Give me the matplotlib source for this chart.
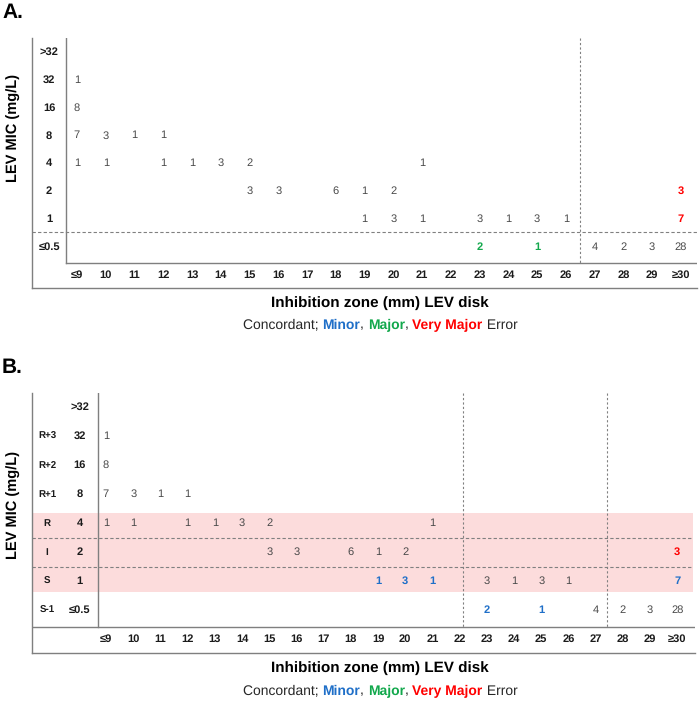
import matplotlib
matplotlib.use("Agg")
import matplotlib.pyplot as plt

plt.rcParams['font.family'] = ['Liberation Sans', 'DejaVu Sans']
plt.rcParams['text.hinting'] = 'no_hinting'

# rows: LEV MIC (mg/L), columns: inhibition zone (mm)
mic_labels = [">32", "32", "16", "8", "4", "2", "1", "≤0.5"]
zone_labels = ["≤9", "10", "11", "12", "13", "14", "15", "16", "17", "18", "19",
               "20", "21", "22", "23", "24", "25", "26", "27", "28", "29", "≥30"]
category_labels = ["", "R+3", "R+2", "R+1", "R", "I", "S", "S-1"]

#          ≤9 10 11 12 13 14 15 16 17 18 19 20 21 22 23 24 25 26 27 28 29 ≥30
counts = [[0, 0, 0, 0, 0, 0, 0, 0, 0, 0, 0, 0, 0, 0, 0, 0, 0, 0, 0, 0, 0, 0],
          [1, 0, 0, 0, 0, 0, 0, 0, 0, 0, 0, 0, 0, 0, 0, 0, 0, 0, 0, 0, 0, 0],
          [8, 0, 0, 0, 0, 0, 0, 0, 0, 0, 0, 0, 0, 0, 0, 0, 0, 0, 0, 0, 0, 0],
          [7, 3, 1, 1, 0, 0, 0, 0, 0, 0, 0, 0, 0, 0, 0, 0, 0, 0, 0, 0, 0, 0],
          [1, 1, 0, 1, 1, 3, 2, 0, 0, 0, 0, 0, 1, 0, 0, 0, 0, 0, 0, 0, 0, 0],
          [0, 0, 0, 0, 0, 0, 3, 3, 0, 6, 1, 2, 0, 0, 0, 0, 0, 0, 0, 0, 0, 3],
          [0, 0, 0, 0, 0, 0, 0, 0, 0, 0, 1, 3, 1, 0, 3, 1, 3, 1, 0, 0, 0, 7],
          [0, 0, 0, 0, 0, 0, 0, 0, 0, 0, 0, 0, 0, 0, 2, 0, 1, 0, 4, 2, 3, 28]]

# (row, column) cells flagged as errors
errors_a = {"very major": [(5, 21), (6, 21)],
            "major": [(7, 14), (7, 16)]}
errors_b = {"very major": [(5, 21)],
            "minor": [(6, 10), (6, 11), (6, 12), (6, 21), (7, 14), (7, 16)]}

err_colors = {"minor": "#1f6fc8", "major": "#12a84c", "very major": "#ff0000"}
grey_txt = "#4a4a4a"
line_col = "#7f7f7f"
dash_col = "#808080"
W, H = 700, 701


def fx(px):
    return px / W


def fy(py):
    return 1 - py / H


def draw_cells(ax, errors):
    lookup = {}
    for kind, cells in errors.items():
        for c in cells:
            lookup[c] = kind
    for r, row in enumerate(counts):
        for c, v in enumerate(row):
            if v == 0:
                continue
            kind = lookup.get((r, c))
            if kind:
                ax.text(c, r, str(v), ha="center", va="center", fontsize=8,
                        color=err_colors[kind], fontweight="bold")
            else:
                ax.text(c, r, str(v), ha="center", va="center", fontsize=8,
                        color=grey_txt)
    for c, lab in enumerate(zone_labels):
        ax.text(c, 8, lab, ha="center", va="center", fontsize=8,
                fontweight="bold", color="#1a1a1a")


def setup_axes(ax, xlim, ylim):
    ax.set_xlim(*xlim)
    ax.set_ylim(*ylim)
    ax.set_xticks([])
    ax.set_yticks([])
    for s in ["top", "right"]:
        ax.spines[s].set_visible(False)
    for s in ["left", "bottom"]:
        ax.spines[s].set_color(line_col)
        ax.spines[s].set_linewidth(1.0)
    ax.patch.set_alpha(0)


def legend_line(fig, y_px, center_px=380):
    pieces = [("Concordant; ", "#262626", "normal"),
              ("Minor", err_colors["minor"], "bold"),
              (", ", "#262626", "normal"),
              ("Major", err_colors["major"], "bold"),
              (", ", "#262626", "normal"),
              ("Very Major", err_colors["very major"], "bold"),
              (" Error", "#262626", "normal")]
    renderer = fig.canvas.get_renderer()
    texts = []
    x = 0
    for s, c, w in pieces:
        t = fig.text(x, fy(y_px), s, color=c, fontweight=w, fontsize=10,
                     ha="left", va="center")
        bb = t.get_window_extent(renderer)
        x += bb.width / fig.bbox.width
        texts.append(t)
    shift = fx(center_px) - x / 2
    for t in texts:
        t.set_x(t.get_position()[0] + shift)


fig = plt.figure(figsize=(7, 7.01), dpi=100)

# ---------------- panel A ----------------
axA = fig.add_axes([fx(32), fy(288), fx(697) - fx(32), fy(38) - fy(288)])
setup_axes(axA, (-1.565, 21.56), (8.47, -0.5))
draw_cells(axA, errors_a)
for r, lab in enumerate(mic_labels):
    axA.text(-0.97, r, lab, ha="center", va="center", fontsize=8,
             fontweight="bold", color="#1a1a1a")
axA.plot([-0.38, -0.38], [-0.5, 7.57], color=line_col, lw=1.0)
axA.plot([-0.38, 21.56], [7.57, 7.57], color=line_col, lw=1.0)
axA.axhline(6.45, color=dash_col, lw=0.8, ls=(0, (3, 2)))
axA.plot([17.5, 17.5], [-0.5, 7.6], color=dash_col, lw=0.8, ls=(0, (2, 2)))

fig.text(fx(2), fy(13), "A.", fontsize=15, fontweight="bold", ha="left", va="center")
fig.text(fx(14), fy(128), "LEV MIC (mg/L)", rotation=90, fontsize=10.5,
         fontweight="bold", ha="center", va="center")
fig.text(fx(380), fy(303), "Inhibition zone (mm) LEV disk", fontsize=11,
         fontweight="bold", ha="center", va="center")
legend_line(fig, 325)

# ---------------- panel B ----------------
axB = fig.add_axes([fx(32), fy(653), fx(695) - fx(32), fy(393) - fy(653)])
setup_axes(axB, (-2.72, 21.65), (8.48, -0.48))
axB.axhspan(3.66, 6.38, xmax=0.997, color="#fcdcdc", lw=0, zorder=0)
draw_cells(axB, errors_b)
for r, lab in enumerate(mic_labels):
    axB.text(-0.96, r, lab, ha="center", va="center", fontsize=8,
             fontweight="bold", color="#1a1a1a")
for r, lab in enumerate(category_labels):
    axB.text(-2.17, r, lab, ha="center", va="center", fontsize=7,
             fontweight="bold", color="#1a1a1a")
axB.plot([-0.29, -0.29], [-0.48, 7.59], color=line_col, lw=1.0)
axB.axhline(7.59, color=line_col, lw=1.0)
for yb in [4.52, 5.52]:
    axB.axhline(yb, xmax=0.997, color=dash_col, lw=0.8, ls=(0, (3, 2)))
for xb in [13.13, 18.42]:
    axB.plot([xb, xb], [-0.48, 7.62], color=dash_col, lw=0.8, ls=(0, (2, 2)))

fig.text(fx(2), fy(368), "B.", fontsize=15, fontweight="bold", ha="left", va="center")
fig.text(fx(14), fy(505), "LEV MIC (mg/L)", rotation=90, fontsize=10.5,
         fontweight="bold", ha="center", va="center")
fig.text(fx(380), fy(668), "Inhibition zone (mm) LEV disk", fontsize=11,
         fontweight="bold", ha="center", va="center")
legend_line(fig, 691)

fig.savefig("out.png", dpi=100)
